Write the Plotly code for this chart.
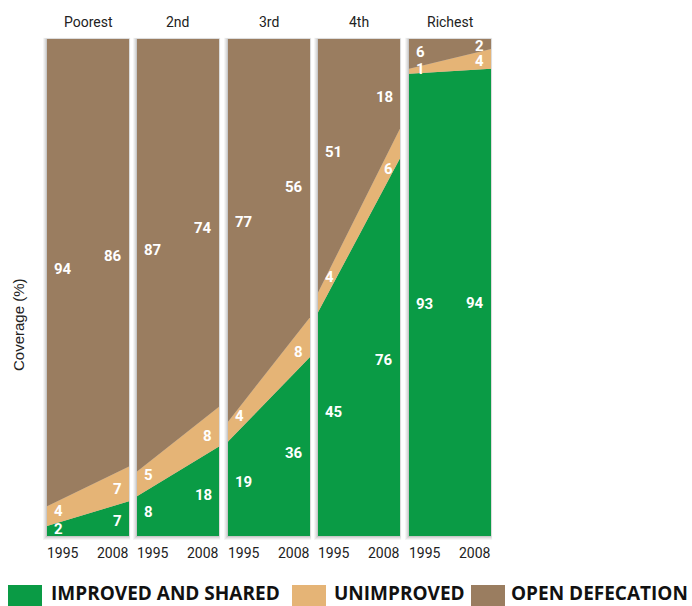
import plotly.graph_objects as go

# ---- data ----
groups = ["Poorest", "2nd", "3rd", "4th", "Richest"]
years = [1995, 2008]
improved = [[2, 7], [8, 18], [19, 36], [45, 76], [93, 94]]
unimproved = [[4, 7], [5, 8], [4, 8], [4, 6], [1, 4]]
open_def = [[94, 86], [87, 74], [77, 56], [51, 18], [6, 2]]

series_names = ["IMPROVED AND SHARED", "UNIMPROVED", "OPEN DEFECATION"]
colors = ["#0a9b45", "#e5b476", "#9a7d60"]

W, H = 692, 606
panel_px = [(47, 129), (137, 219), (228, 310), (318, 400), (409, 491)]
top_px, bot_px = 39, 536

NUM_FONT = "Roboto, Liberation Sans, sans-serif"
LEG_FONT = "Open Sans, Lato, sans-serif"

fig = go.Figure()
annotations = []
shapes = []

layout_axes = {}
for i, g in enumerate(groups):
    k = "" if i == 0 else str(i + 1)
    xa, ya = "x" + k, "y" + k
    x0, x1 = panel_px[i]
    layout_axes["xaxis" + k] = dict(domain=[x0 / W, x1 / W], range=[years[0], years[1]],
                                    visible=False, fixedrange=True, anchor=ya)
    layout_axes["yaxis" + k] = dict(domain=[1 - bot_px / H, 1 - top_px / H], range=[0, 100],
                                    visible=False, fixedrange=True, anchor=xa)

    vals = [improved[i], unimproved[i], open_def[i]]
    for s, v in enumerate(vals):
        fig.add_trace(go.Scatter(
            x=years, y=v, xaxis=xa, yaxis=ya, mode="lines",
            line=dict(width=0, color=colors[s]), fillcolor=colors[s],
            stackgroup="g%d" % i, name=series_names[s], showlegend=False,
            hoverinfo="skip"))

    # soft shadow
    for off, op in [(4, 0.04), (3, 0.05), (2, 0.06), (1, 0.08)]:
        shapes.append(dict(type="rect", xref="paper", yref="paper", layer="below",
                           x0=(x0 - off) / W, x1=(x1 + off * 0.3) / W,
                           y0=1 - (bot_px + off) / H, y1=1 - (top_px - off * 0.3) / H,
                           fillcolor="rgba(0,0,0,%f)" % op, line=dict(width=0)))

    # panel title
    annotations.append(dict(text=g, xref="paper", yref="paper", x=(x0 + x1) / 2 / W,
                            y=1 - 22 / H, showarrow=False, xanchor="center", yanchor="middle",
                            font=dict(family=NUM_FONT, size=14, color="#222")))
    # year labels
    annotations.append(dict(text=str(years[0]), xref="paper", yref="paper", x=x0 / W,
                            y=1 - 553 / H, showarrow=False, xanchor="left", yanchor="middle",
                            xshift=-2,
                            font=dict(family=NUM_FONT, size=14, color="#222")))
    annotations.append(dict(text=str(years[1]), xref="paper", yref="paper", x=x1 / W,
                            y=1 - 553 / H, showarrow=False, xanchor="right", yanchor="middle",
                            xshift=2,
                            font=dict(family=NUM_FONT, size=14, color="#222")))

    # value labels: midpoint of each band, a little inside each edge
    span = years[1] - years[0]
    for j, (xpos, anchor, shift) in enumerate([(years[0], "left", 6), (years[1], "right", -6)]):
        t = 2.1 / span if j == 0 else 1 - 2.1 / span
        base = 0.0
        for s, v in enumerate(vals):
            hv = v[0] + (v[1] - v[0]) * t
            mid = base + hv / 2
            base += hv
            annotations.append(dict(text="<b>%d</b>" % v[j], x=xpos, y=mid, xref=xa, yref=ya,
                                    showarrow=False, xanchor=anchor, yanchor="middle",
                                    xshift=shift, borderpad=0,
                                    font=dict(family=NUM_FONT, size=15, color="white")))

# y-axis title
annotations.append(dict(text="Coverage (%)", xref="paper", yref="paper", x=18 / W,
                        y=1 - 325 / H, showarrow=False, textangle=-90,
                        xanchor="center", yanchor="middle",
                        font=dict(family="Liberation Sans, Arial, sans-serif", size=15, color="#222")))

# legend
leg = [(8, 42, 50), (292, 326, 333), (471, 505, 510)]
for s, (a, b, tx) in enumerate(leg):
    shapes.append(dict(type="rect", xref="paper", yref="paper", x0=a / W, x1=b / W,
                       y0=0, y1=1 - 585 / H, fillcolor=colors[s], line=dict(width=0)))
    annotations.append(dict(text="<b>%s</b>" % series_names[s], xref="paper", yref="paper",
                            x=tx / W, y=0, showarrow=False, xanchor="left",
                            yanchor="bottom", borderpad=0, yshift=-1,
                            font=dict(family=LEG_FONT, size=19, color="#111")))

fig.update_layout(width=W, height=H, margin=dict(l=0, r=0, t=0, b=0),
                  paper_bgcolor="white", plot_bgcolor="rgba(0,0,0,0)",
                  showlegend=False, annotations=annotations, shapes=shapes,
                  **layout_axes)

fig.write_html("out.html", config={"displayModeBar": False},
               post_script="document.body.style.margin='0';document.body.style.overflow='hidden';")
